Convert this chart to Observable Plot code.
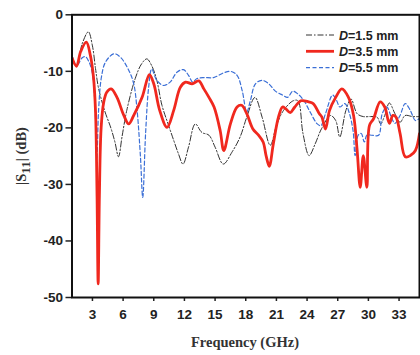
<!DOCTYPE html>
<html>
<head>
<meta charset="utf-8">
<script src="https://cdn.jsdelivr.net/npm/d3@7"></script>
<script src="https://cdn.jsdelivr.net/npm/@observablehq/plot@0.6"></script>
<style>
  html, body { margin: 0; padding: 0; background: white; }
</style>
</head>
<body>
<div id="chart"></div>
<script>
// Series labels
const seriesNames = ["D=1.5 mm", "D=3.5 mm", "D=5.5 mm"];
const xTicks = [3, 6, 9, 12, 15, 18, 21, 24, 27, 30, 33];
const yTicks = [0, -10, -20, -30, -40, -50];

// D = 1.5 mm
const f15 = [1.0,1.44,2.0,2.6,3.0,3.3,3.6,4.2,4.8,5.2,5.55,5.9,6.36,7.18,7.8,8.32,8.8,9.3,9.8,10.4,10.95,11.4,11.86,12.4,13.06,13.7,14.4,15.0,15.8,16.65,17.45,18.1,18.9,19.6,20.4,21.0,21.7,22.65,23.1,23.6,24.2,24.8,25.4,26.3,26.8,27.2,27.8,28.3,28.9,29.5,30.2,30.85,31.2,31.6,32.05,32.6,33.1,33.6,34.3,35.0];
const s15 = [-7.8,-9.0,-5.1,-3.0,-5.5,-9.5,-13,-17,-20,-22.5,-25.1,-21.5,-16.9,-11.3,-8.7,-7.8,-9,-11.6,-16,-19.3,-22.2,-24.5,-26.4,-23.4,-19.3,-20.8,-21.3,-23.4,-26.4,-24.3,-21.6,-18.1,-14.6,-18.1,-23.1,-19.6,-16.9,-15.2,-15.2,-21,-24.9,-22.8,-20.2,-17.8,-18.7,-21.6,-16.9,-14.9,-17.5,-18,-18,-18.1,-19.3,-17.8,-15.6,-17.5,-19,-17.8,-18,-18];

// D = 3.5 mm
const f35 = [1.0,1.44,1.85,2.4,2.8,3.1,3.3,3.45,3.56,3.68,3.85,4.1,4.4,4.83,5.4,6.07,6.55,7.04,7.86,8.57,9.0,9.58,10.3,10.95,11.6,12.1,12.75,13.4,13.9,14.4,14.9,15.5,15.85,16.5,17.15,17.6,18.1,18.7,19.25,19.7,20.0,20.3,20.7,21.2,21.6,21.9,22.35,22.8,23.4,24.15,24.6,25.2,25.45,25.8,26.2,26.8,27.4,28.05,28.55,28.9,29.2,29.5,29.85,30.1,30.5,31.15,31.6,32.05,32.4,32.7,33.1,33.6,34.1,34.6,35.0];
const s35 = [-7.6,-9.1,-6.5,-4.85,-7.2,-11,-17,-32,-47.6,-32,-20,-15.5,-13.7,-13.1,-14.6,-17.8,-19.3,-17.8,-14.6,-10.6,-12.2,-16.9,-19.9,-16.9,-12.8,-11.9,-12.2,-11.7,-13.1,-14.6,-16.3,-20.5,-24.0,-19.3,-16.3,-16.0,-17.5,-20.2,-21.3,-22.5,-25,-26.8,-22.8,-18.1,-16.3,-16.6,-17.3,-16.3,-15.2,-15.4,-15.7,-17.5,-18.1,-20.2,-16.9,-14.6,-13.1,-14.6,-17.8,-24,-30.5,-24.9,-30.5,-19.6,-18.4,-15.4,-16.3,-19.2,-17.8,-18.1,-21,-25.1,-24.9,-24,-21];

// D = 5.5 mm
const f55 = [1.0,1.44,2.0,2.3,2.6,2.97,3.23,3.43,3.6,3.88,4.27,5.1,5.74,6.55,7.04,7.37,7.7,7.92,8.2,8.5,8.8,9.3,9.97,10.6,11.3,11.9,12.4,12.8,13.2,13.9,14.85,15.8,16.5,17.15,17.65,18.1,18.45,18.95,19.6,20.25,20.9,21.6,22.1,22.6,23.1,23.7,24.3,25.0,25.35,25.8,26.5,26.9,27.2,27.7,28.1,28.5,28.7,29.0,29.3,29.6,29.85,30.35,31.0,31.35,31.8,32.3,32.6,33.1,33.6,34.1,34.6,35.0];
const s55 = [-7.2,-9.0,-7.6,-7.4,-8.1,-10.1,-15.2,-25.5,-16.9,-11,-8.4,-6.9,-7.5,-9.8,-12.2,-16.9,-25.2,-32.3,-21,-12.8,-9.6,-11.6,-12.5,-11.9,-10.1,-9.7,-10.7,-11.9,-11.3,-11.1,-11.1,-10.3,-10.0,-10.7,-13.4,-17.2,-15.2,-12.2,-11.6,-12.2,-13.5,-14.2,-14.6,-13.5,-14,-15.2,-17.2,-19.3,-19.6,-17.5,-14.2,-15.2,-16.3,-15.7,-17.2,-20.5,-24.9,-21.3,-21,-22.5,-21.3,-21.3,-21.3,-17.5,-16.3,-18.4,-19.2,-17.8,-15.7,-16.9,-18.7,-18.3];

const toRows = (fs, ss) => fs.map((f, i) => ({f, s: ss[i]}));
const d15 = toRows(f15, s15), d35 = toRows(f35, s35), d55 = toRows(f55, s55);

const styles = [
  {stroke: "#333333", strokeWidth: 1, dash: "6,2,1.5,2"},
  {stroke: "#f0281e", strokeWidth: 2.8, dash: null},
  {stroke: "#3b6fd6", strokeWidth: 1.2, dash: "4,2.5"}
];

const chart = Plot.plot({
  width: 420,
  height: 355,
  marginLeft: 71.5,
  marginRight: 1,
  marginTop: 14.3,
  marginBottom: 58,
  style: {fontFamily: "'Liberation Sans', Arial, sans-serif", fontSize: "13.5px", fontWeight: "bold", background: "white", color: "#222"},
  x: {domain: [1, 35]},
  y: {domain: [-50, 0]},
  marks: [
    Plot.line(d15, {x: "f", y: "s", stroke: styles[0].stroke, strokeWidth: styles[0].strokeWidth, strokeDasharray: styles[0].dash, curve: "catmull-rom", clip: true}),
    Plot.line(d55, {x: "f", y: "s", stroke: styles[2].stroke, strokeWidth: styles[2].strokeWidth, strokeDasharray: styles[2].dash, curve: "catmull-rom", clip: true}),
    Plot.line(d35, {x: "f", y: "s", stroke: styles[1].stroke, strokeWidth: styles[1].strokeWidth, curve: "catmull-rom", clip: true}),
    Plot.axisX({ticks: xTicks, tickSize: 4, tickPadding: 8, tickFormat: d => String(d), label: null, strokeWidth: 1.5}),
    Plot.axisY({ticks: yTicks, tickSize: 6, tickPadding: 3, tickFormat: d => String(d), label: null, strokeWidth: 1.5}),
    Plot.frame({stroke: "#111", strokeWidth: 2})
  ]
});

document.getElementById("chart").appendChild(chart);

const svg = d3.select(chart);
// X axis label
svg.append("text")
  .attr("x", 245).attr("y", 347)
  .attr("text-anchor", "middle")
  .attr("font-family", "'Liberation Serif', 'Times New Roman', serif")
  .attr("font-weight", "bold").attr("font-size", 14.5).attr("fill", "#333")
  .text("Frequency (GHz)");
// Y axis label with subscript
const yl = svg.append("text")
  .attr("transform", "translate(26,156) rotate(-90)")
  .attr("text-anchor", "middle")
  .attr("font-family", "'Liberation Serif', 'Times New Roman', serif")
  .attr("font-weight", "bold").attr("font-size", 14.5).attr("fill", "#333");
yl.append("tspan").text("|S");
yl.append("tspan").attr("dy", 4).attr("font-size", 13).text("11");
yl.append("tspan").attr("dy", -4).text("| (dB)");

// Legend
const lg = svg.append("g").attr("font-family", "'Liberation Sans', Arial, sans-serif").attr("font-weight", "bold").attr("font-size", 12.5).attr("text-anchor", "start");
[0, 1, 2].forEach(i => {
  const y = 35 + i * 16.3;
  lg.append("line").attr("x1", 306).attr("x2", 334).attr("y1", y).attr("y2", y)
    .attr("stroke", styles[i].stroke).attr("stroke-width", styles[i].strokeWidth)
    .attr("stroke-dasharray", styles[i].dash);
  const t = lg.append("text").attr("x", 339).attr("y", y + 4.5).attr("fill", "#222").attr("text-anchor", "start");
  t.append("tspan").attr("font-style", "italic").text(seriesNames[i].slice(0, 1));
  t.append("tspan").text(seriesNames[i].slice(1));
});
</script>
</body>
</html>
